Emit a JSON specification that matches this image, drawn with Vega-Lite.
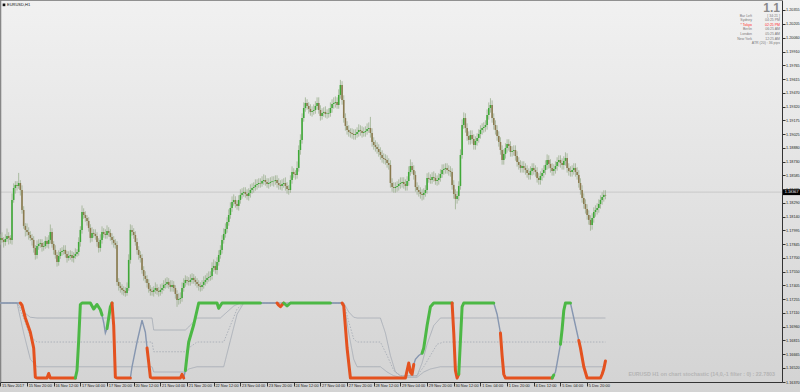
{
"$schema":"https://vega.github.io/schema/vega-lite/v6.json",
"width":782,"height":382,
"autosize":{"type":"none"},
"padding":{"left":0,"top":0,"right":18,"bottom":10},
"background":"#dcdcdc",
"config":{"view":{"stroke":null},"font":"Liberation Sans","axis":{"labelOverlap":false,"labelSeparation":0}},
"datasets":{
"c":[
{"i":0,"o":1.1789,"h":1.17953,"l":1.1784,"c":1.17913},{"i":1,"o":1.17913,"h":1.17973,"l":1.17862,"c":1.17892},{"i":2,"o":1.17892,"h":1.17922,"l":1.1781,"c":1.1787},{"i":3,"o":1.1787,"h":1.17952,"l":1.1783,"c":1.17902},{"i":4,"o":1.17902,"h":1.18014,"l":1.17872,"c":1.17934},{"i":5,"o":1.17934,"h":1.17974,"l":1.17843,"c":1.17913},{"i":6,"o":1.17913,"h":1.17943,"l":1.17852,"c":1.17892},{"i":7,"o":1.17892,"h":1.1839,"l":1.17842,"c":1.1832},{"i":8,"o":1.1832,"h":1.18498,"l":1.1829,"c":1.18448},{"i":9,"o":1.18448,"h":1.18521,"l":1.18388,"c":1.18481},
{"i":10,"o":1.18481,"h":1.18521,"l":1.1842,"c":1.1847},{"i":11,"o":1.1847,"h":1.1861,"l":1.1844,"c":1.18502},{"i":12,"o":1.18502,"h":1.18532,"l":1.18367,"c":1.18427},{"i":13,"o":1.18427,"h":1.18477,"l":1.18173,"c":1.18213},{"i":14,"o":1.18213,"h":1.18253,"l":1.18012,"c":1.18042},{"i":15,"o":1.18042,"h":1.18072,"l":1.17929,"c":1.17999},{"i":16,"o":1.17999,"h":1.18069,"l":1.17937,"c":1.17977},{"i":17,"o":1.17977,"h":1.18027,"l":1.17895,"c":1.17945},{"i":18,"o":1.17945,"h":1.17985,"l":1.17883,"c":1.17913},{"i":19,"o":1.17913,"h":1.17953,"l":1.17832,"c":1.17892},
{"i":20,"o":1.17892,"h":1.17932,"l":1.17756,"c":1.17806},{"i":21,"o":1.17806,"h":1.17836,"l":1.17681,"c":1.17731},{"i":22,"o":1.17731,"h":1.17887,"l":1.17691,"c":1.17827},{"i":23,"o":1.17827,"h":1.17899,"l":1.17787,"c":1.17849},{"i":24,"o":1.17849,"h":1.179,"l":1.17809,"c":1.1786},{"i":25,"o":1.1786,"h":1.179,"l":1.17767,"c":1.17817},{"i":26,"o":1.17817,"h":1.17867,"l":1.17777,"c":1.17827},{"i":27,"o":1.17827,"h":1.17931,"l":1.17797,"c":1.17881},{"i":28,"o":1.17881,"h":1.17921,"l":1.17809,"c":1.17849},{"i":29,"o":1.17849,"h":1.17942,"l":1.17799,"c":1.17892},
{"i":30,"o":1.17892,"h":1.18057,"l":1.17852,"c":1.17977},{"i":31,"o":1.17977,"h":1.18017,"l":1.17809,"c":1.17849},{"i":32,"o":1.17849,"h":1.17879,"l":1.17735,"c":1.17785},{"i":33,"o":1.17785,"h":1.17835,"l":1.17691,"c":1.17731},{"i":34,"o":1.17731,"h":1.17761,"l":1.17606,"c":1.17656},{"i":35,"o":1.17656,"h":1.1778,"l":1.17616,"c":1.1772},{"i":36,"o":1.1772,"h":1.17803,"l":1.1769,"c":1.17763},{"i":37,"o":1.17763,"h":1.17814,"l":1.17723,"c":1.17774},{"i":38,"o":1.17774,"h":1.17835,"l":1.17734,"c":1.17785},{"i":39,"o":1.17785,"h":1.17835,"l":1.17702,"c":1.17742},
{"i":40,"o":1.17742,"h":1.17772,"l":1.17649,"c":1.17699},{"i":41,"o":1.17699,"h":1.1777,"l":1.17669,"c":1.1772},{"i":42,"o":1.1772,"h":1.17781,"l":1.1768,"c":1.17731},{"i":43,"o":1.17731,"h":1.17771,"l":1.17659,"c":1.17699},{"i":44,"o":1.17699,"h":1.1776,"l":1.17649,"c":1.1772},{"i":45,"o":1.1772,"h":1.17802,"l":1.1769,"c":1.17742},{"i":46,"o":1.17742,"h":1.17793,"l":1.17712,"c":1.17763},{"i":47,"o":1.17763,"h":1.1792,"l":1.17723,"c":1.1787},{"i":48,"o":1.1787,"h":1.18039,"l":1.1782,"c":1.17999},{"i":49,"o":1.17999,"h":1.18261,"l":1.17959,"c":1.18191},
{"i":50,"o":1.18191,"h":1.18231,"l":1.18119,"c":1.18159},{"i":51,"o":1.18159,"h":1.18199,"l":1.18087,"c":1.18127},{"i":52,"o":1.18127,"h":1.18157,"l":1.18045,"c":1.18095},{"i":53,"o":1.18095,"h":1.18135,"l":1.1798,"c":1.1802},{"i":54,"o":1.1802,"h":1.1806,"l":1.17863,"c":1.17913},{"i":55,"o":1.17913,"h":1.18027,"l":1.17873,"c":1.17967},{"i":56,"o":1.17967,"h":1.18007,"l":1.17916,"c":1.17956},{"i":57,"o":1.17956,"h":1.18006,"l":1.17894,"c":1.17934},{"i":58,"o":1.17934,"h":1.17974,"l":1.1782,"c":1.1787},{"i":59,"o":1.1787,"h":1.1791,"l":1.17756,"c":1.17806},
{"i":60,"o":1.17806,"h":1.17952,"l":1.17766,"c":1.17892},{"i":61,"o":1.17892,"h":1.18037,"l":1.17852,"c":1.17977},{"i":62,"o":1.17977,"h":1.18017,"l":1.17916,"c":1.17956},{"i":63,"o":1.17956,"h":1.18006,"l":1.17905,"c":1.17945},{"i":64,"o":1.17945,"h":1.18048,"l":1.17905,"c":1.17988},{"i":65,"o":1.17988,"h":1.18028,"l":1.17927,"c":1.17967},{"i":66,"o":1.17967,"h":1.18007,"l":1.17884,"c":1.17924},{"i":67,"o":1.17924,"h":1.17964,"l":1.17842,"c":1.17892},{"i":68,"o":1.17892,"h":1.17932,"l":1.1781,"c":1.1786},{"i":69,"o":1.1786,"h":1.179,"l":1.17798,"c":1.17838},
{"i":70,"o":1.17838,"h":1.17878,"l":1.17402,"c":1.17442},{"i":71,"o":1.17442,"h":1.17482,"l":1.17349,"c":1.17399},{"i":72,"o":1.17399,"h":1.17439,"l":1.17327,"c":1.17377},{"i":73,"o":1.17377,"h":1.17417,"l":1.17306,"c":1.17356},{"i":74,"o":1.17356,"h":1.17396,"l":1.17295,"c":1.17345},{"i":75,"o":1.17345,"h":1.17385,"l":1.17284,"c":1.17324},{"i":76,"o":1.17324,"h":1.17437,"l":1.17294,"c":1.17377},{"i":77,"o":1.17377,"h":1.17738,"l":1.17347,"c":1.17678},{"i":78,"o":1.17678,"h":1.18059,"l":1.17638,"c":1.17999},{"i":79,"o":1.17999,"h":1.18049,"l":1.17937,"c":1.17977},
{"i":80,"o":1.17977,"h":1.18017,"l":1.17905,"c":1.17945},{"i":81,"o":1.17945,"h":1.17985,"l":1.1783,"c":1.1787},{"i":82,"o":1.1787,"h":1.1791,"l":1.17735,"c":1.17785},{"i":83,"o":1.17785,"h":1.17825,"l":1.17681,"c":1.17731},{"i":84,"o":1.17731,"h":1.17771,"l":1.17649,"c":1.17699},{"i":85,"o":1.17699,"h":1.17739,"l":1.1753,"c":1.1757},{"i":86,"o":1.1757,"h":1.1761,"l":1.17456,"c":1.17506},{"i":87,"o":1.17506,"h":1.17556,"l":1.17434,"c":1.17474},{"i":88,"o":1.17474,"h":1.17514,"l":1.17381,"c":1.17431},{"i":89,"o":1.17431,"h":1.17471,"l":1.17327,"c":1.17367},
{"i":90,"o":1.17367,"h":1.17407,"l":1.17295,"c":1.17345},{"i":91,"o":1.17345,"h":1.17385,"l":1.17295,"c":1.17335},{"i":92,"o":1.17335,"h":1.17396,"l":1.17285,"c":1.17356},{"i":93,"o":1.17356,"h":1.17437,"l":1.17316,"c":1.17377},{"i":94,"o":1.17377,"h":1.17417,"l":1.17305,"c":1.17345},{"i":95,"o":1.17345,"h":1.17385,"l":1.17285,"c":1.17335},{"i":96,"o":1.17335,"h":1.17416,"l":1.17295,"c":1.17356},{"i":97,"o":1.17356,"h":1.17427,"l":1.17316,"c":1.17377},{"i":98,"o":1.17377,"h":1.1746,"l":1.17347,"c":1.1741},{"i":99,"o":1.1741,"h":1.1748,"l":1.1737,"c":1.1742},
{"i":100,"o":1.1742,"h":1.17492,"l":1.1738,"c":1.17442},{"i":101,"o":1.17442,"h":1.17482,"l":1.1737,"c":1.1741},{"i":102,"o":1.1741,"h":1.1746,"l":1.17338,"c":1.17388},{"i":103,"o":1.17388,"h":1.1746,"l":1.17338,"c":1.1741},{"i":104,"o":1.1741,"h":1.1745,"l":1.17337,"c":1.17377},{"i":105,"o":1.17377,"h":1.17407,"l":1.17263,"c":1.17313},{"i":106,"o":1.17313,"h":1.17353,"l":1.17175,"c":1.17249},{"i":107,"o":1.17249,"h":1.17319,"l":1.17199,"c":1.17259},{"i":108,"o":1.17259,"h":1.1733,"l":1.17209,"c":1.1727},{"i":109,"o":1.1727,"h":1.17437,"l":1.1723,"c":1.17377},
{"i":110,"o":1.17377,"h":1.17481,"l":1.17337,"c":1.17431},{"i":111,"o":1.17431,"h":1.17513,"l":1.17391,"c":1.17463},{"i":112,"o":1.17463,"h":1.17503,"l":1.17413,"c":1.17453},{"i":113,"o":1.17453,"h":1.17493,"l":1.17402,"c":1.17442},{"i":114,"o":1.17442,"h":1.17523,"l":1.17402,"c":1.17463},{"i":115,"o":1.17463,"h":1.17535,"l":1.17423,"c":1.17485},{"i":116,"o":1.17485,"h":1.17525,"l":1.17423,"c":1.17463},{"i":117,"o":1.17463,"h":1.17503,"l":1.17402,"c":1.17442},{"i":118,"o":1.17442,"h":1.17482,"l":1.1738,"c":1.1742},{"i":119,"o":1.1742,"h":1.1746,"l":1.17349,"c":1.17399},
{"i":120,"o":1.17399,"h":1.17439,"l":1.17338,"c":1.17388},{"i":121,"o":1.17388,"h":1.1746,"l":1.17348,"c":1.1741},{"i":122,"o":1.1741,"h":1.17502,"l":1.1737,"c":1.17442},{"i":123,"o":1.17442,"h":1.17513,"l":1.17402,"c":1.17463},{"i":124,"o":1.17463,"h":1.17535,"l":1.17423,"c":1.17485},{"i":125,"o":1.17485,"h":1.17555,"l":1.17445,"c":1.17495},{"i":126,"o":1.17495,"h":1.17556,"l":1.17455,"c":1.17506},{"i":127,"o":1.17506,"h":1.17652,"l":1.17466,"c":1.17592},{"i":128,"o":1.17592,"h":1.17683,"l":1.17552,"c":1.17613},{"i":129,"o":1.17613,"h":1.17663,"l":1.1753,"c":1.1757},
{"i":130,"o":1.1757,"h":1.17706,"l":1.1752,"c":1.17656},{"i":131,"o":1.17656,"h":1.17781,"l":1.17616,"c":1.17731},{"i":132,"o":1.17731,"h":1.17835,"l":1.17691,"c":1.17785},{"i":133,"o":1.17785,"h":1.17942,"l":1.17745,"c":1.17892},{"i":134,"o":1.17892,"h":1.18016,"l":1.17852,"c":1.17956},{"i":135,"o":1.17956,"h":1.18069,"l":1.17916,"c":1.18009},{"i":136,"o":1.18009,"h":1.18134,"l":1.17969,"c":1.18084},{"i":137,"o":1.18084,"h":1.18219,"l":1.18044,"c":1.18159},{"i":138,"o":1.18159,"h":1.18294,"l":1.18119,"c":1.18234},{"i":139,"o":1.18234,"h":1.18358,"l":1.18194,"c":1.18298},
{"i":140,"o":1.18298,"h":1.1838,"l":1.18258,"c":1.1832},{"i":141,"o":1.1832,"h":1.1836,"l":1.18237,"c":1.18277},{"i":142,"o":1.18277,"h":1.18317,"l":1.18216,"c":1.18256},{"i":143,"o":1.18256,"h":1.1837,"l":1.18206,"c":1.1832},{"i":144,"o":1.1832,"h":1.18434,"l":1.1828,"c":1.18374},{"i":145,"o":1.18374,"h":1.18445,"l":1.18334,"c":1.18395},{"i":146,"o":1.18395,"h":1.18456,"l":1.18355,"c":1.18406},{"i":147,"o":1.18406,"h":1.18456,"l":1.18344,"c":1.18384},{"i":148,"o":1.18384,"h":1.18434,"l":1.18323,"c":1.18363},{"i":149,"o":1.18363,"h":1.18445,"l":1.18313,"c":1.18395},
{"i":150,"o":1.18395,"h":1.18487,"l":1.18345,"c":1.18427},{"i":151,"o":1.18427,"h":1.18498,"l":1.18387,"c":1.18448},{"i":152,"o":1.18448,"h":1.18509,"l":1.18398,"c":1.18459},{"i":153,"o":1.18459,"h":1.18541,"l":1.18419,"c":1.18481},{"i":154,"o":1.18481,"h":1.18541,"l":1.18431,"c":1.18491},{"i":155,"o":1.18491,"h":1.18552,"l":1.18451,"c":1.18502},{"i":156,"o":1.18502,"h":1.18552,"l":1.18452,"c":1.18496},{"i":157,"o":1.18496,"h":1.18573,"l":1.18462,"c":1.18523},{"i":158,"o":1.18523,"h":1.18594,"l":1.18483,"c":1.18534},{"i":159,"o":1.18534,"h":1.18584,"l":1.18473,"c":1.18513},
{"i":160,"o":1.18513,"h":1.18553,"l":1.18451,"c":1.18491},{"i":161,"o":1.18491,"h":1.18552,"l":1.18441,"c":1.18502},{"i":162,"o":1.18502,"h":1.18563,"l":1.18462,"c":1.18513},{"i":163,"o":1.18513,"h":1.18573,"l":1.18473,"c":1.1852},{"i":164,"o":1.1852,"h":1.18573,"l":1.18463,"c":1.18523},{"i":165,"o":1.18523,"h":1.18584,"l":1.18483,"c":1.18534},{"i":166,"o":1.18534,"h":1.18584,"l":1.18452,"c":1.18502},{"i":167,"o":1.18502,"h":1.18552,"l":1.18431,"c":1.18481},{"i":168,"o":1.18481,"h":1.18531,"l":1.1843,"c":1.1847},{"i":169,"o":1.1847,"h":1.18541,"l":1.1842,"c":1.18491},
{"i":170,"o":1.18491,"h":1.18552,"l":1.18451,"c":1.18502},{"i":171,"o":1.18502,"h":1.18562,"l":1.1842,"c":1.1847},{"i":172,"o":1.1847,"h":1.1851,"l":1.18388,"c":1.18438},{"i":173,"o":1.18438,"h":1.18478,"l":1.18377,"c":1.18427},{"i":174,"o":1.18427,"h":1.18584,"l":1.18397,"c":1.18534},{"i":175,"o":1.18534,"h":1.1868,"l":1.18494,"c":1.1862},{"i":176,"o":1.1862,"h":1.1866,"l":1.18558,"c":1.18598},{"i":177,"o":1.18598,"h":1.18638,"l":1.18538,"c":1.18588},{"i":178,"o":1.18588,"h":1.18733,"l":1.18548,"c":1.18663},{"i":179,"o":1.18663,"h":1.18905,"l":1.18623,"c":1.18855},
{"i":180,"o":1.18855,"h":1.19023,"l":1.18805,"c":1.18963},{"i":181,"o":1.18963,"h":1.19248,"l":1.18923,"c":1.19198},{"i":182,"o":1.19198,"h":1.19365,"l":1.19158,"c":1.19305},{"i":183,"o":1.19305,"h":1.19419,"l":1.19265,"c":1.19359},{"i":184,"o":1.19359,"h":1.19399,"l":1.19287,"c":1.19327},{"i":185,"o":1.19327,"h":1.19367,"l":1.19245,"c":1.19295},{"i":186,"o":1.19295,"h":1.19345,"l":1.19223,"c":1.19263},{"i":187,"o":1.19263,"h":1.19323,"l":1.19213,"c":1.19273},{"i":188,"o":1.19273,"h":1.19344,"l":1.19233,"c":1.19284},{"i":189,"o":1.19284,"h":1.19377,"l":1.19244,"c":1.19327},
{"i":190,"o":1.19327,"h":1.19419,"l":1.19287,"c":1.19359},{"i":191,"o":1.19359,"h":1.19419,"l":1.19244,"c":1.19284},{"i":192,"o":1.19284,"h":1.19334,"l":1.1917,"c":1.1922},{"i":193,"o":1.1922,"h":1.19302,"l":1.1918,"c":1.19252},{"i":194,"o":1.19252,"h":1.19313,"l":1.19212,"c":1.19263},{"i":195,"o":1.19263,"h":1.19323,"l":1.19201,"c":1.19241},{"i":196,"o":1.19241,"h":1.19291,"l":1.19191,"c":1.19245},{"i":197,"o":1.19245,"h":1.19302,"l":1.19201,"c":1.19252},{"i":198,"o":1.19252,"h":1.19365,"l":1.19212,"c":1.19305},{"i":199,"o":1.19305,"h":1.19398,"l":1.19255,"c":1.19348},
{"i":200,"o":1.19348,"h":1.19419,"l":1.19298,"c":1.19359},{"i":201,"o":1.19359,"h":1.19429,"l":1.19309,"c":1.19369},{"i":202,"o":1.19369,"h":1.19419,"l":1.19297,"c":1.19337},{"i":203,"o":1.19337,"h":1.19505,"l":1.19297,"c":1.19445},{"i":204,"o":1.19445,"h":1.19606,"l":1.19405,"c":1.19552},{"i":205,"o":1.19552,"h":1.19592,"l":1.19341,"c":1.19391},{"i":206,"o":1.19391,"h":1.19441,"l":1.19148,"c":1.19198},{"i":207,"o":1.19198,"h":1.19248,"l":1.19063,"c":1.19113},{"i":208,"o":1.19113,"h":1.19163,"l":1.1902,"c":1.1907},{"i":209,"o":1.1907,"h":1.1912,"l":1.18998,"c":1.19048},
{"i":210,"o":1.19048,"h":1.19088,"l":1.18988,"c":1.19038},{"i":211,"o":1.19038,"h":1.19088,"l":1.18977,"c":1.19027},{"i":212,"o":1.19027,"h":1.19077,"l":1.18966,"c":1.19016},{"i":213,"o":1.19016,"h":1.19077,"l":1.18966,"c":1.19027},{"i":214,"o":1.19027,"h":1.19098,"l":1.18987,"c":1.19048},{"i":215,"o":1.19048,"h":1.1913,"l":1.18998,"c":1.1907},{"i":216,"o":1.1907,"h":1.1912,"l":1.19009,"c":1.19059},{"i":217,"o":1.19059,"h":1.19109,"l":1.18988,"c":1.19038},{"i":218,"o":1.19038,"h":1.19098,"l":1.18998,"c":1.19048},{"i":219,"o":1.19048,"h":1.19109,"l":1.18998,"c":1.19059},
{"i":220,"o":1.19059,"h":1.1914,"l":1.19019,"c":1.1908},{"i":221,"o":1.1908,"h":1.19151,"l":1.1904,"c":1.19091},{"i":222,"o":1.19091,"h":1.1921,"l":1.18988,"c":1.19038},{"i":223,"o":1.19038,"h":1.19088,"l":1.18891,"c":1.18941},{"i":224,"o":1.18941,"h":1.18991,"l":1.18859,"c":1.18909},{"i":225,"o":1.18909,"h":1.18959,"l":1.18838,"c":1.18888},{"i":226,"o":1.18888,"h":1.18938,"l":1.18816,"c":1.18866},{"i":227,"o":1.18866,"h":1.18916,"l":1.18784,"c":1.18834},{"i":228,"o":1.18834,"h":1.18884,"l":1.18752,"c":1.18802},{"i":229,"o":1.18802,"h":1.18852,"l":1.1872,"c":1.1877},
{"i":230,"o":1.1877,"h":1.1882,"l":1.18709,"c":1.18759},{"i":231,"o":1.18759,"h":1.18809,"l":1.18698,"c":1.18748},{"i":232,"o":1.18748,"h":1.18798,"l":1.18666,"c":1.18716},{"i":233,"o":1.18716,"h":1.18766,"l":1.18645,"c":1.18695},{"i":234,"o":1.18695,"h":1.18745,"l":1.18452,"c":1.18502},{"i":235,"o":1.18502,"h":1.18552,"l":1.18409,"c":1.18459},{"i":236,"o":1.18459,"h":1.18509,"l":1.18398,"c":1.18448},{"i":237,"o":1.18448,"h":1.18509,"l":1.18398,"c":1.18459},{"i":238,"o":1.18459,"h":1.1852,"l":1.18409,"c":1.1847},{"i":239,"o":1.1847,"h":1.18541,"l":1.1842,"c":1.18491},
{"i":240,"o":1.18491,"h":1.18562,"l":1.18441,"c":1.18502},{"i":241,"o":1.18502,"h":1.18563,"l":1.18452,"c":1.18513},{"i":242,"o":1.18513,"h":1.18563,"l":1.18441,"c":1.18491},{"i":243,"o":1.18491,"h":1.18541,"l":1.1842,"c":1.1847},{"i":244,"o":1.1847,"h":1.18573,"l":1.1842,"c":1.18523},{"i":245,"o":1.18523,"h":1.1868,"l":1.18473,"c":1.1862},{"i":246,"o":1.1862,"h":1.18754,"l":1.1858,"c":1.18684},{"i":247,"o":1.18684,"h":1.18724,"l":1.18601,"c":1.18641},{"i":248,"o":1.18641,"h":1.18691,"l":1.18538,"c":1.18588},{"i":249,"o":1.18588,"h":1.18628,"l":1.18409,"c":1.18459},
{"i":250,"o":1.18459,"h":1.18509,"l":1.18377,"c":1.18427},{"i":251,"o":1.18427,"h":1.18477,"l":1.18356,"c":1.18406},{"i":252,"o":1.18406,"h":1.18456,"l":1.18334,"c":1.18384},{"i":253,"o":1.18384,"h":1.18434,"l":1.18314,"c":1.18374},{"i":254,"o":1.18374,"h":1.18445,"l":1.18324,"c":1.18395},{"i":255,"o":1.18395,"h":1.18477,"l":1.18355,"c":1.18427},{"i":256,"o":1.18427,"h":1.18606,"l":1.18387,"c":1.18556},{"i":257,"o":1.18556,"h":1.18616,"l":1.18505,"c":1.18545},{"i":258,"o":1.18545,"h":1.18595,"l":1.18494,"c":1.18534},{"i":259,"o":1.18534,"h":1.18616,"l":1.18494,"c":1.18566},
{"i":260,"o":1.18566,"h":1.18626,"l":1.18516,"c":1.18556},{"i":261,"o":1.18556,"h":1.18606,"l":1.18483,"c":1.18523},{"i":262,"o":1.18523,"h":1.18584,"l":1.18473,"c":1.18534},{"i":263,"o":1.18534,"h":1.18606,"l":1.18484,"c":1.18556},{"i":264,"o":1.18556,"h":1.18648,"l":1.18516,"c":1.18598},{"i":265,"o":1.18598,"h":1.18701,"l":1.18558,"c":1.18641},{"i":266,"o":1.18641,"h":1.18702,"l":1.18591,"c":1.18652},{"i":267,"o":1.18652,"h":1.18713,"l":1.18602,"c":1.18663},{"i":268,"o":1.18663,"h":1.18713,"l":1.18601,"c":1.18641},{"i":269,"o":1.18641,"h":1.18691,"l":1.18581,"c":1.18631},
{"i":270,"o":1.18631,"h":1.18681,"l":1.1857,"c":1.1862},{"i":271,"o":1.1862,"h":1.1866,"l":1.18431,"c":1.18481},{"i":272,"o":1.18481,"h":1.18531,"l":1.18334,"c":1.18384},{"i":273,"o":1.18384,"h":1.18434,"l":1.1822,"c":1.18331},{"i":274,"o":1.18331,"h":1.18413,"l":1.18281,"c":1.18363},{"i":275,"o":1.18363,"h":1.1852,"l":1.18313,"c":1.1847},{"i":276,"o":1.1847,"h":1.18862,"l":1.1843,"c":1.18802},{"i":277,"o":1.18802,"h":1.19183,"l":1.18762,"c":1.19123},{"i":278,"o":1.19123,"h":1.19258,"l":1.19083,"c":1.19198},{"i":279,"o":1.19198,"h":1.19248,"l":1.19041,"c":1.19091},
{"i":280,"o":1.19091,"h":1.19141,"l":1.18955,"c":1.19005},{"i":281,"o":1.19005,"h":1.19055,"l":1.18913,"c":1.18963},{"i":282,"o":1.18963,"h":1.19066,"l":1.18913,"c":1.19016},{"i":283,"o":1.19016,"h":1.19066,"l":1.18923,"c":1.18973},{"i":284,"o":1.18973,"h":1.19023,"l":1.18859,"c":1.18909},{"i":285,"o":1.18909,"h":1.19002,"l":1.18859,"c":1.18952},{"i":286,"o":1.18952,"h":1.19034,"l":1.18902,"c":1.18984},{"i":287,"o":1.18984,"h":1.19077,"l":1.18934,"c":1.19027},{"i":288,"o":1.19027,"h":1.1912,"l":1.18977,"c":1.1907},{"i":289,"o":1.1907,"h":1.19141,"l":1.1902,"c":1.19091},
{"i":290,"o":1.19091,"h":1.19152,"l":1.19041,"c":1.19102},{"i":291,"o":1.19102,"h":1.19173,"l":1.19052,"c":1.19123},{"i":292,"o":1.19123,"h":1.1929,"l":1.19073,"c":1.1923},{"i":293,"o":1.1923,"h":1.19365,"l":1.1918,"c":1.19305},{"i":294,"o":1.19305,"h":1.1941,"l":1.19255,"c":1.19337},{"i":295,"o":1.19337,"h":1.19387,"l":1.19148,"c":1.19198},{"i":296,"o":1.19198,"h":1.19248,"l":1.19073,"c":1.19123},{"i":297,"o":1.19123,"h":1.19173,"l":1.1902,"c":1.1907},{"i":298,"o":1.1907,"h":1.1912,"l":1.18955,"c":1.19005},{"i":299,"o":1.19005,"h":1.19055,"l":1.18891,"c":1.18941},
{"i":300,"o":1.18941,"h":1.18991,"l":1.18805,"c":1.18855},{"i":301,"o":1.18855,"h":1.18905,"l":1.18698,"c":1.18748},{"i":302,"o":1.18748,"h":1.18863,"l":1.18698,"c":1.18813},{"i":303,"o":1.18813,"h":1.18927,"l":1.18763,"c":1.18877},{"i":304,"o":1.18877,"h":1.1897,"l":1.18827,"c":1.1892},{"i":305,"o":1.1892,"h":1.1897,"l":1.18848,"c":1.18898},{"i":306,"o":1.18898,"h":1.18948,"l":1.18784,"c":1.18834},{"i":307,"o":1.18834,"h":1.18895,"l":1.18784,"c":1.18845},{"i":308,"o":1.18845,"h":1.18905,"l":1.18795,"c":1.18855},{"i":309,"o":1.18855,"h":1.18905,"l":1.18741,"c":1.18791},
{"i":310,"o":1.18791,"h":1.18841,"l":1.18677,"c":1.18727},{"i":311,"o":1.18727,"h":1.18777,"l":1.18645,"c":1.18695},{"i":312,"o":1.18695,"h":1.18745,"l":1.18613,"c":1.18663},{"i":313,"o":1.18663,"h":1.18734,"l":1.18613,"c":1.18684},{"i":314,"o":1.18684,"h":1.18734,"l":1.18613,"c":1.18663},{"i":315,"o":1.18663,"h":1.18713,"l":1.18591,"c":1.18641},{"i":316,"o":1.18641,"h":1.18691,"l":1.18559,"c":1.18609},{"i":317,"o":1.18609,"h":1.18659,"l":1.18538,"c":1.18588},{"i":318,"o":1.18588,"h":1.18681,"l":1.18538,"c":1.18631},{"i":319,"o":1.18631,"h":1.18713,"l":1.18581,"c":1.18663},
{"i":320,"o":1.18663,"h":1.18713,"l":1.18591,"c":1.18641},{"i":321,"o":1.18641,"h":1.18691,"l":1.1857,"c":1.1862},{"i":322,"o":1.1862,"h":1.1867,"l":1.18506,"c":1.18556},{"i":323,"o":1.18556,"h":1.18606,"l":1.18484,"c":1.18534},{"i":324,"o":1.18534,"h":1.18627,"l":1.18484,"c":1.18577},{"i":325,"o":1.18577,"h":1.18659,"l":1.18527,"c":1.18609},{"i":326,"o":1.18609,"h":1.18691,"l":1.18559,"c":1.18641},{"i":327,"o":1.18641,"h":1.18745,"l":1.18591,"c":1.18695},{"i":328,"o":1.18695,"h":1.18808,"l":1.18645,"c":1.18748},{"i":329,"o":1.18748,"h":1.18798,"l":1.18656,"c":1.18706},
{"i":330,"o":1.18706,"h":1.18756,"l":1.18613,"c":1.18663},{"i":331,"o":1.18663,"h":1.18713,"l":1.18581,"c":1.18631},{"i":332,"o":1.18631,"h":1.18702,"l":1.18581,"c":1.18652},{"i":333,"o":1.18652,"h":1.18734,"l":1.18602,"c":1.18684},{"i":334,"o":1.18684,"h":1.18777,"l":1.18634,"c":1.18727},{"i":335,"o":1.18727,"h":1.18798,"l":1.18677,"c":1.18748},{"i":336,"o":1.18748,"h":1.18798,"l":1.18666,"c":1.18716},{"i":337,"o":1.18716,"h":1.18766,"l":1.18645,"c":1.18695},{"i":338,"o":1.18695,"h":1.18788,"l":1.18645,"c":1.18738},{"i":339,"o":1.18738,"h":1.1883,"l":1.18688,"c":1.1877},
{"i":340,"o":1.1877,"h":1.1882,"l":1.18613,"c":1.18663},{"i":341,"o":1.18663,"h":1.18713,"l":1.18581,"c":1.18631},{"i":342,"o":1.18631,"h":1.18681,"l":1.1857,"c":1.1862},{"i":343,"o":1.1862,"h":1.18691,"l":1.1857,"c":1.18641},{"i":344,"o":1.18641,"h":1.18713,"l":1.18591,"c":1.18663},{"i":345,"o":1.18663,"h":1.18713,"l":1.1857,"c":1.1862},{"i":346,"o":1.1862,"h":1.1867,"l":1.18538,"c":1.18588},{"i":347,"o":1.18588,"h":1.18638,"l":1.18452,"c":1.18502},{"i":348,"o":1.18502,"h":1.18552,"l":1.18377,"c":1.18427},{"i":349,"o":1.18427,"h":1.18477,"l":1.18291,"c":1.18341},
{"i":350,"o":1.18341,"h":1.18391,"l":1.18227,"c":1.18277},{"i":351,"o":1.18277,"h":1.18327,"l":1.18174,"c":1.18224},{"i":352,"o":1.18224,"h":1.18274,"l":1.18109,"c":1.18159},{"i":353,"o":1.18159,"h":1.18209,"l":1.18056,"c":1.18106},{"i":354,"o":1.18106,"h":1.18156,"l":1.1799,"c":1.18052},{"i":355,"o":1.18052,"h":1.18177,"l":1.18002,"c":1.18127},{"i":356,"o":1.18127,"h":1.18241,"l":1.18077,"c":1.18191},{"i":357,"o":1.18191,"h":1.18263,"l":1.18141,"c":1.18213},{"i":358,"o":1.18213,"h":1.18284,"l":1.18163,"c":1.18234},{"i":359,"o":1.18234,"h":1.18327,"l":1.18184,"c":1.18277},
{"i":360,"o":1.18277,"h":1.1837,"l":1.18227,"c":1.1832},{"i":361,"o":1.1832,"h":1.18402,"l":1.1827,"c":1.18352},{"i":362,"o":1.18352,"h":1.18424,"l":1.18302,"c":1.18374},{"i":363,"o":1.18374,"h":1.18424,"l":1.18327,"c":1.18367}
],
"s":[{"i":0,"v":100},{"i":12,"v":100},{"i":13,"v":97},{"i":15,"v":80},{"i":18,"v":61},{"i":20,"v":40},{"i":21,"v":1},{"i":22,"v":0},{"i":28,"v":0},{"i":29,"v":6},{"i":30,"v":0},{"i":45,"v":0},{"i":46,"v":10},{"i":47,"v":50},{"i":48,"v":98},{"i":49,"v":100},{"i":54,"v":100},{"i":56,"v":92},{"i":58,"v":98},{"i":60,"v":91},{"i":61,"v":84},{"i":62,"v":74},{"i":63,"v":60},{"i":64,"v":66},{"i":65,"v":80},{"i":66,"v":95},{"i":67,"v":100},{"i":68,"v":70},{"i":69,"v":1},{"i":70,"v":0},{"i":78,"v":0},{"i":79,"v":15},{"i":82,"v":48},{"i":85,"v":77},{"i":87,"v":61},{"i":88,"v":40},{"i":89,"v":21},{"i":90,"v":1},{"i":91,"v":0},{"i":108,"v":0},{"i":109,"v":5},{"i":110,"v":0},{"i":111,"v":10},{"i":112,"v":30},{"i":113,"v":48},{"i":116,"v":71},{"i":119,"v":100},{"i":130,"v":100},{"i":131,"v":93},{"i":133,"v":100},{"i":166,"v":100},{"i":167,"v":97},{"i":168,"v":95},{"i":170,"v":100},{"i":172,"v":96},{"i":174,"v":100},{"i":205,"v":100},{"i":206,"v":96},{"i":208,"v":40},{"i":210,"v":0},{"i":243,"v":0},{"i":244,"v":10},{"i":245,"v":20},{"i":246,"v":8},{"i":247,"v":5},{"i":248,"v":18},{"i":249,"v":25},{"i":251,"v":30},{"i":253,"v":33},{"i":254,"v":40},{"i":256,"v":70},{"i":258,"v":95},{"i":260,"v":100},{"i":271,"v":100},{"i":272,"v":60},{"i":273,"v":10},{"i":274,"v":0},{"i":275,"v":5},{"i":276,"v":50},{"i":277,"v":95},{"i":278,"v":100},{"i":296,"v":100},{"i":298,"v":85},{"i":300,"v":60},{"i":301,"v":30},{"i":302,"v":5},{"i":303,"v":0},{"i":331,"v":0},{"i":332,"v":4},{"i":333,"v":8},{"i":334,"v":20},{"i":336,"v":45},{"i":337,"v":65},{"i":338,"v":90},{"i":339,"v":100},{"i":342,"v":100},{"i":343,"v":90},{"i":345,"v":70},{"i":347,"v":50},{"i":348,"v":40},{"i":350,"v":15},{"i":352,"v":0},{"i":360,"v":0},{"i":361,"v":5},{"i":362,"v":12},{"i":363,"v":22.78}],
"h":[
{"g":1,"k":"dn","i":12,"v":100},{"g":1,"k":"dn","i":13,"v":97},{"g":1,"k":"dn","i":15,"v":80},{"g":1,"k":"dn","i":18,"v":61},{"g":1,"k":"dn","i":20,"v":40},{"g":1,"k":"dn","i":21,"v":1},{"g":1,"k":"dn","i":22,"v":0},{"g":1,"k":"dn","i":28,"v":0},{"g":1,"k":"dn","i":29,"v":6},{"g":1,"k":"dn","i":30,"v":0},{"g":1,"k":"dn","i":45,"v":0},
{"g":2,"k":"up","i":45,"v":0},{"g":2,"k":"up","i":46,"v":10},{"g":2,"k":"up","i":47,"v":50},{"g":2,"k":"up","i":48,"v":98},{"g":2,"k":"up","i":49,"v":100},{"g":2,"k":"up","i":54,"v":100},{"g":2,"k":"up","i":56,"v":92},{"g":2,"k":"up","i":58,"v":98},{"g":2,"k":"up","i":60,"v":91},{"g":2,"k":"up","i":61,"v":84},
{"g":3,"k":"up","i":64,"v":66},{"g":3,"k":"up","i":65,"v":80},{"g":3,"k":"up","i":66,"v":95},{"g":3,"k":"up","i":67,"v":100},
{"g":4,"k":"dn","i":67,"v":100},{"g":4,"k":"dn","i":68,"v":70},{"g":4,"k":"dn","i":69,"v":1},{"g":4,"k":"dn","i":70,"v":0},{"g":4,"k":"dn","i":78,"v":0},
{"g":5,"k":"dn","i":88,"v":40},{"g":5,"k":"dn","i":89,"v":21},{"g":5,"k":"dn","i":90,"v":1},{"g":5,"k":"dn","i":91,"v":0},{"g":5,"k":"dn","i":108,"v":0},{"g":5,"k":"dn","i":109,"v":5},{"g":5,"k":"dn","i":110,"v":0},
{"g":6,"k":"up","i":111,"v":10},{"g":6,"k":"up","i":112,"v":30},{"g":6,"k":"up","i":113,"v":48},{"g":6,"k":"up","i":116,"v":71},{"g":6,"k":"up","i":119,"v":100},{"g":6,"k":"up","i":130,"v":100},{"g":6,"k":"up","i":131,"v":93},{"g":6,"k":"up","i":133,"v":100},{"g":6,"k":"up","i":156,"v":100},
{"g":7,"k":"dn","i":166,"v":100},{"g":7,"k":"dn","i":167,"v":97},{"g":7,"k":"dn","i":168,"v":95},{"g":7,"k":"dn","i":170,"v":100},
{"g":8,"k":"up","i":170,"v":100},{"g":8,"k":"up","i":172,"v":96},{"g":8,"k":"up","i":174,"v":100},{"g":8,"k":"up","i":198,"v":100},
{"g":9,"k":"dn","i":205,"v":100},{"g":9,"k":"dn","i":206,"v":96},{"g":9,"k":"dn","i":208,"v":40},{"g":9,"k":"dn","i":210,"v":0},{"g":9,"k":"dn","i":243,"v":0},{"g":9,"k":"dn","i":244,"v":10},{"g":9,"k":"dn","i":245,"v":20},{"g":9,"k":"dn","i":246,"v":8},{"g":9,"k":"dn","i":247,"v":5},{"g":9,"k":"dn","i":248,"v":18},
{"g":10,"k":"up","i":253,"v":33},{"g":10,"k":"up","i":254,"v":40},{"g":10,"k":"up","i":256,"v":70},{"g":10,"k":"up","i":258,"v":95},{"g":10,"k":"up","i":260,"v":100},{"g":10,"k":"up","i":271,"v":100},
{"g":11,"k":"dn","i":271,"v":100},{"g":11,"k":"dn","i":272,"v":60},{"g":11,"k":"dn","i":273,"v":10},{"g":11,"k":"dn","i":274,"v":0},{"g":11,"k":"dn","i":275,"v":5},
{"g":12,"k":"up","i":275,"v":5},{"g":12,"k":"up","i":276,"v":50},{"g":12,"k":"up","i":277,"v":95},{"g":12,"k":"up","i":278,"v":100},{"g":12,"k":"up","i":296,"v":100},
{"g":13,"k":"dn","i":300,"v":60},{"g":13,"k":"dn","i":301,"v":30},{"g":13,"k":"dn","i":302,"v":5},{"g":13,"k":"dn","i":303,"v":0},{"g":13,"k":"dn","i":331,"v":0},
{"g":14,"k":"up","i":331,"v":0},{"g":14,"k":"up","i":332,"v":4},
{"g":15,"k":"up","i":336,"v":45},{"g":15,"k":"up","i":337,"v":65},{"g":15,"k":"up","i":338,"v":90},{"g":15,"k":"up","i":339,"v":100},{"g":15,"k":"up","i":342,"v":100},
{"g":16,"k":"dn","i":347,"v":50},{"g":16,"k":"dn","i":348,"v":40},{"g":16,"k":"dn","i":350,"v":15},{"g":16,"k":"dn","i":352,"v":0},{"g":16,"k":"dn","i":360,"v":0},{"g":16,"k":"dn","i":361,"v":5},{"g":16,"k":"dn","i":362,"v":12},{"g":16,"k":"dn","i":363,"v":22.78}
],
"lv":[
{"k":"u","i":0,"v":100},{"k":"u","i":10,"v":100},{"k":"u","i":14,"v":88},{"k":"u","i":18,"v":81},{"k":"u","i":22,"v":80},{"k":"u","i":91,"v":80},{"k":"u","i":92,"v":64},{"k":"u","i":111,"v":64},{"k":"u","i":113,"v":68},{"k":"u","i":118,"v":80},{"k":"u","i":132,"v":80},{"k":"u","i":136,"v":88},{"k":"u","i":140,"v":96},{"k":"u","i":144,"v":100},{"k":"u","i":206,"v":100},{"k":"u","i":209,"v":88},{"k":"u","i":212,"v":81},{"k":"u","i":214,"v":80},{"k":"u","i":228,"v":80},{"k":"u","i":231,"v":60},{"k":"u","i":234,"v":30},{"k":"u","i":237,"v":8},{"k":"u","i":240,"v":3},{"k":"u","i":250,"v":3},{"k":"u","i":253,"v":20},{"k":"u","i":256,"v":45},{"k":"u","i":260,"v":70},{"k":"u","i":264,"v":80},{"k":"u","i":363,"v":80},
{"k":"m","i":0,"v":100},{"k":"m","i":10,"v":100},{"k":"m","i":14,"v":80},{"k":"m","i":18,"v":55},{"k":"m","i":22,"v":48},{"k":"m","i":91,"v":48},{"k":"m","i":92,"v":35},{"k":"m","i":111,"v":35},{"k":"m","i":113,"v":40},{"k":"m","i":118,"v":48},{"k":"m","i":134,"v":48},{"k":"m","i":138,"v":70},{"k":"m","i":142,"v":92},{"k":"m","i":146,"v":100},{"k":"m","i":206,"v":100},{"k":"m","i":209,"v":75},{"k":"m","i":212,"v":52},{"k":"m","i":214,"v":48},{"k":"m","i":228,"v":48},{"k":"m","i":232,"v":30},{"k":"m","i":236,"v":10},{"k":"m","i":240,"v":3},{"k":"m","i":250,"v":3},{"k":"m","i":254,"v":15},{"k":"m","i":258,"v":30},{"k":"m","i":262,"v":45},{"k":"m","i":266,"v":48},{"k":"m","i":363,"v":48},
{"k":"l","i":0,"v":100},{"k":"l","i":10,"v":100},{"k":"l","i":14,"v":60},{"k":"l","i":18,"v":25},{"k":"l","i":22,"v":15},{"k":"l","i":91,"v":15},{"k":"l","i":92,"v":8},{"k":"l","i":111,"v":8},{"k":"l","i":113,"v":12},{"k":"l","i":118,"v":15},{"k":"l","i":134,"v":15},{"k":"l","i":138,"v":50},{"k":"l","i":142,"v":85},{"k":"l","i":146,"v":100},{"k":"l","i":206,"v":100},{"k":"l","i":209,"v":60},{"k":"l","i":212,"v":25},{"k":"l","i":214,"v":15},{"k":"l","i":228,"v":15},{"k":"l","i":232,"v":8},{"k":"l","i":236,"v":3},{"k":"l","i":240,"v":1},{"k":"l","i":250,"v":1},{"k":"l","i":254,"v":8},{"k":"l","i":258,"v":12},{"k":"l","i":264,"v":15},{"k":"l","i":363,"v":15}
],
"info":[{"n":0,"name":"Bar Left","val":"[ 34:21 ]"},{"n":1,"name":"Sydney","val":"04:25 PM"},{"n":2,"name":"* Tokyo","val":"02:25 PM"},{"n":3,"name":"Berlin","val":"06:25 AM"},{"n":4,"name":"London","val":"05:25 AM"},{"n":5,"name":"New York","val":"12:25 AM"},{"n":6,"name":"","val":"ATR (20) : 36 pips"}]
},
"layer":[
{"layer":[
 {"data":{"values":[{}]},
  "mark":{"type":"rect","fill":{"gradient":"linear","x1":0,"y1":0,"x2":0,"y2":1,"stops":[{"offset":0,"color":"#f1f1f1"},{"offset":1,"color":"#d3d3d3"}]}},
  "encoding":{
   "x":{"datum":-1,"type":"quantitative","scale":{"domain":[-0.2,468.9],"nice":false,"zero":false},
     "axis":{"orient":"bottom","title":null,"grid":false,"zindex":2,"values":[0,16,32,48,64,80,96,112,128,144,160,176,192,208,224,240,256,272,288,304,320,336,352],"labelExpr":"['15 Nov 2017','15 Nov 20:00','16 Nov 12:00','17 Nov 04:00','17 Nov 20:00','20 Nov 12:00','21 Nov 04:00','21 Nov 20:00','22 Nov 12:00','23 Nov 04:00','23 Nov 20:00','24 Nov 12:00','27 Nov 04:00','27 Nov 20:00','28 Nov 12:00','29 Nov 04:00','29 Nov 20:00','30 Nov 12:00','1 Dec 04:00','1 Dec 20:00','4 Dec 12:00','5 Dec 04:00','5 Dec 20:00'][round(datum.value/16)]","labelAlign":"left","labelBaseline":"top","labelFontSize":3.9,"labelPadding":-2.5,"labelOffset":1.2,"labelColor":"#222","labelOverlap":false,"labelSeparation":0,"labelFlush":false,"labelBound":false,"tickSize":4,"tickColor":"#333","domainColor":"#333","domainWidth":1}},
   "x2":{"datum":481},
   "y":{"datum":1.2048,"type":"quantitative","scale":{"domain":[1.1637,1.20462],"nice":false,"zero":false},
     "axis":{"orient":"right","title":null,"grid":false,"zindex":2,"values":[1.20355,1.20205,1.2006,1.1991,1.19765,1.19615,1.1947,1.1932,1.19175,1.19025,1.1888,1.1873,1.18585,1.18435,1.1829,1.1814,1.17995,1.17845,1.177,1.1755,1.17405,1.17255,1.1711,1.1696,1.16815,1.16665,1.1652,1.1637],"format":".5f","labelFontSize":3.8,"labelPadding":0.5,"labelColor":"#222","labelOverlap":false,"labelSeparation":0,"labelFlush":false,"labelBound":false,"tickSize":3,"tickColor":"#333","domainColor":"#333","domainWidth":1}},
   "y2":{"datum":1.1624}}},
 {"data":{"values":[{}]},"mark":{"type":"rule","color":"#c2c2c2","strokeWidth":0.8},
  "encoding":{"y":{"datum":1.18404,"type":"quantitative","scale":{"domain":[1.1637,1.20462],"nice":false,"zero":false},
     "axis":{"orient":"right","title":null,"grid":false,"zindex":2,"values":[1.20355,1.20205,1.2006,1.1991,1.19765,1.19615,1.1947,1.1932,1.19175,1.19025,1.1888,1.1873,1.18585,1.18435,1.1829,1.1814,1.17995,1.17845,1.177,1.1755,1.17405,1.17255,1.1711,1.1696,1.16815,1.16665,1.1652,1.1637],"format":".5f","labelFontSize":3.8,"labelPadding":0.5,"labelColor":"#222","labelOverlap":false,"labelSeparation":0,"labelFlush":false,"labelBound":false,"tickSize":3,"tickColor":"#333","domainColor":"#333","domainWidth":1}}}},
 {"data":{"values":[{}]},"mark":{"type":"rule","color":"#8c8c8c","strokeWidth":1},
  "encoding":{"y":{"datum":1.20457,"type":"quantitative","scale":{"domain":[1.1637,1.20462],"nice":false,"zero":false},
     "axis":{"orient":"right","title":null,"grid":false,"zindex":2,"values":[1.20355,1.20205,1.2006,1.1991,1.19765,1.19615,1.1947,1.1932,1.19175,1.19025,1.1888,1.1873,1.18585,1.18435,1.1829,1.1814,1.17995,1.17845,1.177,1.1755,1.17405,1.17255,1.1711,1.1696,1.16815,1.16665,1.1652,1.1637],"format":".5f","labelFontSize":3.8,"labelPadding":0.5,"labelColor":"#222","labelOverlap":false,"labelSeparation":0,"labelFlush":false,"labelBound":false,"tickSize":3,"tickColor":"#333","domainColor":"#333","domainWidth":1}}}},
 {"data":{"values":[{}]},"mark":{"type":"rule","color":"#808080","strokeWidth":1.2},
  "encoding":{"x":{"datum":0.2,"type":"quantitative","scale":{"domain":[-0.2,468.9],"nice":false,"zero":false},
     "axis":{"orient":"bottom","title":null,"grid":false,"zindex":2,"values":[0,16,32,48,64,80,96,112,128,144,160,176,192,208,224,240,256,272,288,304,320,336,352],"labelExpr":"['15 Nov 2017','15 Nov 20:00','16 Nov 12:00','17 Nov 04:00','17 Nov 20:00','20 Nov 12:00','21 Nov 04:00','21 Nov 20:00','22 Nov 12:00','23 Nov 04:00','23 Nov 20:00','24 Nov 12:00','27 Nov 04:00','27 Nov 20:00','28 Nov 12:00','29 Nov 04:00','29 Nov 20:00','30 Nov 12:00','1 Dec 04:00','1 Dec 20:00','4 Dec 12:00','5 Dec 04:00','5 Dec 20:00'][round(datum.value/16)]","labelAlign":"left","labelBaseline":"top","labelFontSize":3.9,"labelPadding":-2.5,"labelOffset":1.2,"labelColor":"#222","labelOverlap":false,"labelSeparation":0,"labelFlush":false,"labelBound":false,"tickSize":4,"tickColor":"#333","domainColor":"#333","domainWidth":1}}}},
 {"data":{"name":"c"},"mark":{"type":"rule","color":"#9cb08f","strokeWidth":0.8},
  "encoding":{"x":{"field":"i","type":"quantitative","scale":{"domain":[-0.2,468.9],"nice":false,"zero":false},
     "axis":{"orient":"bottom","title":null,"grid":false,"zindex":2,"values":[0,16,32,48,64,80,96,112,128,144,160,176,192,208,224,240,256,272,288,304,320,336,352],"labelExpr":"['15 Nov 2017','15 Nov 20:00','16 Nov 12:00','17 Nov 04:00','17 Nov 20:00','20 Nov 12:00','21 Nov 04:00','21 Nov 20:00','22 Nov 12:00','23 Nov 04:00','23 Nov 20:00','24 Nov 12:00','27 Nov 04:00','27 Nov 20:00','28 Nov 12:00','29 Nov 04:00','29 Nov 20:00','30 Nov 12:00','1 Dec 04:00','1 Dec 20:00','4 Dec 12:00','5 Dec 04:00','5 Dec 20:00'][round(datum.value/16)]","labelAlign":"left","labelBaseline":"top","labelFontSize":3.9,"labelPadding":-2.5,"labelOffset":1.2,"labelColor":"#222","labelOverlap":false,"labelSeparation":0,"labelFlush":false,"labelBound":false,"tickSize":4,"tickColor":"#333","domainColor":"#333","domainWidth":1}},
   "y":{"field":"l","type":"quantitative","scale":{"domain":[1.1637,1.20462],"nice":false,"zero":false},
     "axis":{"orient":"right","title":null,"grid":false,"zindex":2,"values":[1.20355,1.20205,1.2006,1.1991,1.19765,1.19615,1.1947,1.1932,1.19175,1.19025,1.1888,1.1873,1.18585,1.18435,1.1829,1.1814,1.17995,1.17845,1.177,1.1755,1.17405,1.17255,1.1711,1.1696,1.16815,1.16665,1.1652,1.1637],"format":".5f","labelFontSize":3.8,"labelPadding":0.5,"labelColor":"#222","labelOverlap":false,"labelSeparation":0,"labelFlush":false,"labelBound":false,"tickSize":3,"tickColor":"#333","domainColor":"#333","domainWidth":1}},"y2":{"field":"h"}}},
 {"data":{"name":"c"},"mark":{"type":"rule","strokeWidth":1.6},
  "encoding":{"x":{"field":"i","type":"quantitative","scale":{"domain":[-0.2,468.9],"nice":false,"zero":false},
     "axis":{"orient":"bottom","title":null,"grid":false,"zindex":2,"values":[0,16,32,48,64,80,96,112,128,144,160,176,192,208,224,240,256,272,288,304,320,336,352],"labelExpr":"['15 Nov 2017','15 Nov 20:00','16 Nov 12:00','17 Nov 04:00','17 Nov 20:00','20 Nov 12:00','21 Nov 04:00','21 Nov 20:00','22 Nov 12:00','23 Nov 04:00','23 Nov 20:00','24 Nov 12:00','27 Nov 04:00','27 Nov 20:00','28 Nov 12:00','29 Nov 04:00','29 Nov 20:00','30 Nov 12:00','1 Dec 04:00','1 Dec 20:00','4 Dec 12:00','5 Dec 04:00','5 Dec 20:00'][round(datum.value/16)]","labelAlign":"left","labelBaseline":"top","labelFontSize":3.9,"labelPadding":-2.5,"labelOffset":1.2,"labelColor":"#222","labelOverlap":false,"labelSeparation":0,"labelFlush":false,"labelBound":false,"tickSize":4,"tickColor":"#333","domainColor":"#333","domainWidth":1}},
   "y":{"field":"o","type":"quantitative","scale":{"domain":[1.1637,1.20462],"nice":false,"zero":false},
     "axis":{"orient":"right","title":null,"grid":false,"zindex":2,"values":[1.20355,1.20205,1.2006,1.1991,1.19765,1.19615,1.1947,1.1932,1.19175,1.19025,1.1888,1.1873,1.18585,1.18435,1.1829,1.1814,1.17995,1.17845,1.177,1.1755,1.17405,1.17255,1.1711,1.1696,1.16815,1.16665,1.1652,1.1637],"format":".5f","labelFontSize":3.8,"labelPadding":0.5,"labelColor":"#222","labelOverlap":false,"labelSeparation":0,"labelFlush":false,"labelBound":false,"tickSize":3,"tickColor":"#333","domainColor":"#333","domainWidth":1}},"y2":{"field":"c"},
   "color":{"condition":{"test":"datum.c >= datum.o","value":"#3fa837"},"value":"#8a7a4e"}}},
 {"data":{"values":[{}]},"mark":{"type":"text","text":"1.1","align":"right","baseline":"alphabetic","fontSize":12,"fontWeight":"bold","color":"#8a8a8a"},
  "encoding":{"x":{"datum":467.7,"type":"quantitative","scale":{"domain":[-0.2,468.9],"nice":false,"zero":false},
     "axis":{"orient":"bottom","title":null,"grid":false,"zindex":2,"values":[0,16,32,48,64,80,96,112,128,144,160,176,192,208,224,240,256,272,288,304,320,336,352],"labelExpr":"['15 Nov 2017','15 Nov 20:00','16 Nov 12:00','17 Nov 04:00','17 Nov 20:00','20 Nov 12:00','21 Nov 04:00','21 Nov 20:00','22 Nov 12:00','23 Nov 04:00','23 Nov 20:00','24 Nov 12:00','27 Nov 04:00','27 Nov 20:00','28 Nov 12:00','29 Nov 04:00','29 Nov 20:00','30 Nov 12:00','1 Dec 04:00','1 Dec 20:00','4 Dec 12:00','5 Dec 04:00','5 Dec 20:00'][round(datum.value/16)]","labelAlign":"left","labelBaseline":"top","labelFontSize":3.9,"labelPadding":-2.5,"labelOffset":1.2,"labelColor":"#222","labelOverlap":false,"labelSeparation":0,"labelFlush":false,"labelBound":false,"tickSize":4,"tickColor":"#333","domainColor":"#333","domainWidth":1}},
   "y":{"datum":1.20337,"type":"quantitative","scale":{"domain":[1.1637,1.20462],"nice":false,"zero":false},
     "axis":{"orient":"right","title":null,"grid":false,"zindex":2,"values":[1.20355,1.20205,1.2006,1.1991,1.19765,1.19615,1.1947,1.1932,1.19175,1.19025,1.1888,1.1873,1.18585,1.18435,1.1829,1.1814,1.17995,1.17845,1.177,1.1755,1.17405,1.17255,1.1711,1.1696,1.16815,1.16665,1.1652,1.1637],"format":".5f","labelFontSize":3.8,"labelPadding":0.5,"labelColor":"#222","labelOverlap":false,"labelSeparation":0,"labelFlush":false,"labelBound":false,"tickSize":3,"tickColor":"#333","domainColor":"#333","domainWidth":1}}}},
 {"data":{"values":[{}]},"mark":{"type":"text","text":"EURUSD,H1","align":"left","baseline":"middle","fontSize":4,"color":"#111"},
  "encoding":{"x":{"datum":4,"type":"quantitative","scale":{"domain":[-0.2,468.9],"nice":false,"zero":false},
     "axis":{"orient":"bottom","title":null,"grid":false,"zindex":2,"values":[0,16,32,48,64,80,96,112,128,144,160,176,192,208,224,240,256,272,288,304,320,336,352],"labelExpr":"['15 Nov 2017','15 Nov 20:00','16 Nov 12:00','17 Nov 04:00','17 Nov 20:00','20 Nov 12:00','21 Nov 04:00','21 Nov 20:00','22 Nov 12:00','23 Nov 04:00','23 Nov 20:00','24 Nov 12:00','27 Nov 04:00','27 Nov 20:00','28 Nov 12:00','29 Nov 04:00','29 Nov 20:00','30 Nov 12:00','1 Dec 04:00','1 Dec 20:00','4 Dec 12:00','5 Dec 04:00','5 Dec 20:00'][round(datum.value/16)]","labelAlign":"left","labelBaseline":"top","labelFontSize":3.9,"labelPadding":-2.5,"labelOffset":1.2,"labelColor":"#222","labelOverlap":false,"labelSeparation":0,"labelFlush":false,"labelBound":false,"tickSize":4,"tickColor":"#333","domainColor":"#333","domainWidth":1}},
   "y":{"datum":1.2041,"type":"quantitative","scale":{"domain":[1.1637,1.20462],"nice":false,"zero":false},
     "axis":{"orient":"right","title":null,"grid":false,"zindex":2,"values":[1.20355,1.20205,1.2006,1.1991,1.19765,1.19615,1.1947,1.1932,1.19175,1.19025,1.1888,1.1873,1.18585,1.18435,1.1829,1.1814,1.17995,1.17845,1.177,1.1755,1.17405,1.17255,1.1711,1.1696,1.16815,1.16665,1.1652,1.1637],"format":".5f","labelFontSize":3.8,"labelPadding":0.5,"labelColor":"#222","labelOverlap":false,"labelSeparation":0,"labelFlush":false,"labelBound":false,"tickSize":3,"tickColor":"#333","domainColor":"#333","domainWidth":1}}}},
 {"data":{"values":[{}]},"mark":{"type":"square","filled":true,"size":7,"color":"#111","opacity":1},
  "encoding":{"x":{"datum":2.2,"type":"quantitative","scale":{"domain":[-0.2,468.9],"nice":false,"zero":false},
     "axis":{"orient":"bottom","title":null,"grid":false,"zindex":2,"values":[0,16,32,48,64,80,96,112,128,144,160,176,192,208,224,240,256,272,288,304,320,336,352],"labelExpr":"['15 Nov 2017','15 Nov 20:00','16 Nov 12:00','17 Nov 04:00','17 Nov 20:00','20 Nov 12:00','21 Nov 04:00','21 Nov 20:00','22 Nov 12:00','23 Nov 04:00','23 Nov 20:00','24 Nov 12:00','27 Nov 04:00','27 Nov 20:00','28 Nov 12:00','29 Nov 04:00','29 Nov 20:00','30 Nov 12:00','1 Dec 04:00','1 Dec 20:00','4 Dec 12:00','5 Dec 04:00','5 Dec 20:00'][round(datum.value/16)]","labelAlign":"left","labelBaseline":"top","labelFontSize":3.9,"labelPadding":-2.5,"labelOffset":1.2,"labelColor":"#222","labelOverlap":false,"labelSeparation":0,"labelFlush":false,"labelBound":false,"tickSize":4,"tickColor":"#333","domainColor":"#333","domainWidth":1}},
   "y":{"datum":1.2041,"type":"quantitative","scale":{"domain":[1.1637,1.20462],"nice":false,"zero":false},
     "axis":{"orient":"right","title":null,"grid":false,"zindex":2,"values":[1.20355,1.20205,1.2006,1.1991,1.19765,1.19615,1.1947,1.1932,1.19175,1.19025,1.1888,1.1873,1.18585,1.18435,1.1829,1.1814,1.17995,1.17845,1.177,1.1755,1.17405,1.17255,1.1711,1.1696,1.16815,1.16665,1.1652,1.1637],"format":".5f","labelFontSize":3.8,"labelPadding":0.5,"labelColor":"#222","labelOverlap":false,"labelSeparation":0,"labelFlush":false,"labelBound":false,"tickSize":3,"tickColor":"#333","domainColor":"#333","domainWidth":1}}}},
 {"data":{"values":[{}]},"mark":{"type":"rect","color":"#000000"},
  "encoding":{"x":{"datum":469.5,"type":"quantitative","scale":{"domain":[-0.2,468.9],"nice":false,"zero":false},
     "axis":{"orient":"bottom","title":null,"grid":false,"zindex":2,"values":[0,16,32,48,64,80,96,112,128,144,160,176,192,208,224,240,256,272,288,304,320,336,352],"labelExpr":"['15 Nov 2017','15 Nov 20:00','16 Nov 12:00','17 Nov 04:00','17 Nov 20:00','20 Nov 12:00','21 Nov 04:00','21 Nov 20:00','22 Nov 12:00','23 Nov 04:00','23 Nov 20:00','24 Nov 12:00','27 Nov 04:00','27 Nov 20:00','28 Nov 12:00','29 Nov 04:00','29 Nov 20:00','30 Nov 12:00','1 Dec 04:00','1 Dec 20:00','4 Dec 12:00','5 Dec 04:00','5 Dec 20:00'][round(datum.value/16)]","labelAlign":"left","labelBaseline":"top","labelFontSize":3.9,"labelPadding":-2.5,"labelOffset":1.2,"labelColor":"#222","labelOverlap":false,"labelSeparation":0,"labelFlush":false,"labelBound":false,"tickSize":4,"tickColor":"#333","domainColor":"#333","domainWidth":1}},"x2":{"datum":480.5},
   "y":{"datum":1.18435,"type":"quantitative","scale":{"domain":[1.1637,1.20462],"nice":false,"zero":false},
     "axis":{"orient":"right","title":null,"grid":false,"zindex":2,"values":[1.20355,1.20205,1.2006,1.1991,1.19765,1.19615,1.1947,1.1932,1.19175,1.19025,1.1888,1.1873,1.18585,1.18435,1.1829,1.1814,1.17995,1.17845,1.177,1.1755,1.17405,1.17255,1.1711,1.1696,1.16815,1.16665,1.1652,1.1637],"format":".5f","labelFontSize":3.8,"labelPadding":0.5,"labelColor":"#222","labelOverlap":false,"labelSeparation":0,"labelFlush":false,"labelBound":false,"tickSize":3,"tickColor":"#333","domainColor":"#333","domainWidth":1}},"y2":{"datum":1.18372}}},
 {"data":{"values":[{}]},"mark":{"type":"text","text":"1.18367","align":"left","baseline":"middle","fontSize":3.8,"color":"#ffffff"},
  "encoding":{"x":{"datum":470.6,"type":"quantitative","scale":{"domain":[-0.2,468.9],"nice":false,"zero":false},
     "axis":{"orient":"bottom","title":null,"grid":false,"zindex":2,"values":[0,16,32,48,64,80,96,112,128,144,160,176,192,208,224,240,256,272,288,304,320,336,352],"labelExpr":"['15 Nov 2017','15 Nov 20:00','16 Nov 12:00','17 Nov 04:00','17 Nov 20:00','20 Nov 12:00','21 Nov 04:00','21 Nov 20:00','22 Nov 12:00','23 Nov 04:00','23 Nov 20:00','24 Nov 12:00','27 Nov 04:00','27 Nov 20:00','28 Nov 12:00','29 Nov 04:00','29 Nov 20:00','30 Nov 12:00','1 Dec 04:00','1 Dec 20:00','4 Dec 12:00','5 Dec 04:00','5 Dec 20:00'][round(datum.value/16)]","labelAlign":"left","labelBaseline":"top","labelFontSize":3.9,"labelPadding":-2.5,"labelOffset":1.2,"labelColor":"#222","labelOverlap":false,"labelSeparation":0,"labelFlush":false,"labelBound":false,"tickSize":4,"tickColor":"#333","domainColor":"#333","domainWidth":1}},
   "y":{"datum":1.18404,"type":"quantitative","scale":{"domain":[1.1637,1.20462],"nice":false,"zero":false},
     "axis":{"orient":"right","title":null,"grid":false,"zindex":2,"values":[1.20355,1.20205,1.2006,1.1991,1.19765,1.19615,1.1947,1.1932,1.19175,1.19025,1.1888,1.1873,1.18585,1.18435,1.1829,1.1814,1.17995,1.17845,1.177,1.1755,1.17405,1.17255,1.1711,1.1696,1.16815,1.16665,1.1652,1.1637],"format":".5f","labelFontSize":3.8,"labelPadding":0.5,"labelColor":"#222","labelOverlap":false,"labelSeparation":0,"labelFlush":false,"labelBound":false,"tickSize":3,"tickColor":"#333","domainColor":"#333","domainWidth":1}}}}
]},
{"layer":[
 {"data":{"name":"lv"},"mark":{"type":"line","color":"#a2a8b2","strokeWidth":0.8},
  "encoding":{"x":{"field":"i","type":"quantitative","scale":{"domain":[-0.2,468.9],"nice":false,"zero":false},
     "axis":{"orient":"bottom","title":null,"grid":false,"zindex":2,"values":[0,16,32,48,64,80,96,112,128,144,160,176,192,208,224,240,256,272,288,304,320,336,352],"labelExpr":"['15 Nov 2017','15 Nov 20:00','16 Nov 12:00','17 Nov 04:00','17 Nov 20:00','20 Nov 12:00','21 Nov 04:00','21 Nov 20:00','22 Nov 12:00','23 Nov 04:00','23 Nov 20:00','24 Nov 12:00','27 Nov 04:00','27 Nov 20:00','28 Nov 12:00','29 Nov 04:00','29 Nov 20:00','30 Nov 12:00','1 Dec 04:00','1 Dec 20:00','4 Dec 12:00','5 Dec 04:00','5 Dec 20:00'][round(datum.value/16)]","labelAlign":"left","labelBaseline":"top","labelFontSize":3.9,"labelPadding":-2.5,"labelOffset":1.2,"labelColor":"#222","labelOverlap":false,"labelSeparation":0,"labelFlush":false,"labelBound":false,"tickSize":4,"tickColor":"#333","domainColor":"#333","domainWidth":1}},
   "y":{"field":"v","type":"quantitative","scale":{"domain":[-5.333,504],"nice":false,"zero":false},"axis":null},
   "detail":{"field":"k"},
   "strokeDash":{"field":"k","type":"nominal","scale":{"domain":["u","m","l"],"range":[[1,0],[1.5,1.5],[1,0]]},"legend":null}}},
 {"data":{"name":"s"},"mark":{"type":"line","color":"#8696b0","strokeWidth":1.4},
  "encoding":{"x":{"field":"i","type":"quantitative","scale":{"domain":[-0.2,468.9],"nice":false,"zero":false},
     "axis":{"orient":"bottom","title":null,"grid":false,"zindex":2,"values":[0,16,32,48,64,80,96,112,128,144,160,176,192,208,224,240,256,272,288,304,320,336,352],"labelExpr":"['15 Nov 2017','15 Nov 20:00','16 Nov 12:00','17 Nov 04:00','17 Nov 20:00','20 Nov 12:00','21 Nov 04:00','21 Nov 20:00','22 Nov 12:00','23 Nov 04:00','23 Nov 20:00','24 Nov 12:00','27 Nov 04:00','27 Nov 20:00','28 Nov 12:00','29 Nov 04:00','29 Nov 20:00','30 Nov 12:00','1 Dec 04:00','1 Dec 20:00','4 Dec 12:00','5 Dec 04:00','5 Dec 20:00'][round(datum.value/16)]","labelAlign":"left","labelBaseline":"top","labelFontSize":3.9,"labelPadding":-2.5,"labelOffset":1.2,"labelColor":"#222","labelOverlap":false,"labelSeparation":0,"labelFlush":false,"labelBound":false,"tickSize":4,"tickColor":"#333","domainColor":"#333","domainWidth":1}},
   "y":{"field":"v","type":"quantitative","scale":{"domain":[-5.333,504],"nice":false,"zero":false},"axis":null}}},
 {"data":{"name":"h"},"mark":{"type":"line","strokeWidth":3,"strokeCap":"round","strokeJoin":"round"},
  "encoding":{"x":{"field":"i","type":"quantitative","scale":{"domain":[-0.2,468.9],"nice":false,"zero":false},
     "axis":{"orient":"bottom","title":null,"grid":false,"zindex":2,"values":[0,16,32,48,64,80,96,112,128,144,160,176,192,208,224,240,256,272,288,304,320,336,352],"labelExpr":"['15 Nov 2017','15 Nov 20:00','16 Nov 12:00','17 Nov 04:00','17 Nov 20:00','20 Nov 12:00','21 Nov 04:00','21 Nov 20:00','22 Nov 12:00','23 Nov 04:00','23 Nov 20:00','24 Nov 12:00','27 Nov 04:00','27 Nov 20:00','28 Nov 12:00','29 Nov 04:00','29 Nov 20:00','30 Nov 12:00','1 Dec 04:00','1 Dec 20:00','4 Dec 12:00','5 Dec 04:00','5 Dec 20:00'][round(datum.value/16)]","labelAlign":"left","labelBaseline":"top","labelFontSize":3.9,"labelPadding":-2.5,"labelOffset":1.2,"labelColor":"#222","labelOverlap":false,"labelSeparation":0,"labelFlush":false,"labelBound":false,"tickSize":4,"tickColor":"#333","domainColor":"#333","domainWidth":1}},
   "y":{"field":"v","type":"quantitative","scale":{"domain":[-5.333,504],"nice":false,"zero":false},"axis":null},
   "detail":{"field":"g"},
   "color":{"field":"k","type":"nominal","scale":{"domain":["up","dn"],"range":["#4cb845","#e4521f"]},"legend":null}}},
 {"data":{"values":[{}]},"mark":{"type":"text","text":"EURUSD H1 on chart stochastic (14,0,-1 filter : 0) : 22.7803","align":"right","baseline":"middle","fontSize":5.3,"fontWeight":"bold","color":"#b4b4b4"},
  "encoding":{"x":{"datum":464.7,"type":"quantitative","scale":{"domain":[-0.2,468.9],"nice":false,"zero":false},
     "axis":{"orient":"bottom","title":null,"grid":false,"zindex":2,"values":[0,16,32,48,64,80,96,112,128,144,160,176,192,208,224,240,256,272,288,304,320,336,352],"labelExpr":"['15 Nov 2017','15 Nov 20:00','16 Nov 12:00','17 Nov 04:00','17 Nov 20:00','20 Nov 12:00','21 Nov 04:00','21 Nov 20:00','22 Nov 12:00','23 Nov 04:00','23 Nov 20:00','24 Nov 12:00','27 Nov 04:00','27 Nov 20:00','28 Nov 12:00','29 Nov 04:00','29 Nov 20:00','30 Nov 12:00','1 Dec 04:00','1 Dec 20:00','4 Dec 12:00','5 Dec 04:00','5 Dec 20:00'][round(datum.value/16)]","labelAlign":"left","labelBaseline":"top","labelFontSize":3.9,"labelPadding":-2.5,"labelOffset":1.2,"labelColor":"#222","labelOverlap":false,"labelSeparation":0,"labelFlush":false,"labelBound":false,"tickSize":4,"tickColor":"#333","domainColor":"#333","domainWidth":1}},
   "y":{"datum":6,"type":"quantitative","scale":{"domain":[-5.333,504],"nice":false,"zero":false},"axis":null}}}
]},
{"data":{"name":"info"},"layer":[
 {"mark":{"type":"text","align":"right","baseline":"middle","fontSize":3.5},
  "encoding":{"x":{"datum":450.9,"type":"quantitative","scale":{"domain":[-0.2,468.9],"nice":false,"zero":false},
     "axis":{"orient":"bottom","title":null,"grid":false,"zindex":2,"values":[0,16,32,48,64,80,96,112,128,144,160,176,192,208,224,240,256,272,288,304,320,336,352],"labelExpr":"['15 Nov 2017','15 Nov 20:00','16 Nov 12:00','17 Nov 04:00','17 Nov 20:00','20 Nov 12:00','21 Nov 04:00','21 Nov 20:00','22 Nov 12:00','23 Nov 04:00','23 Nov 20:00','24 Nov 12:00','27 Nov 04:00','27 Nov 20:00','28 Nov 12:00','29 Nov 04:00','29 Nov 20:00','30 Nov 12:00','1 Dec 04:00','1 Dec 20:00','4 Dec 12:00','5 Dec 04:00','5 Dec 20:00'][round(datum.value/16)]","labelAlign":"left","labelBaseline":"top","labelFontSize":3.9,"labelPadding":-2.5,"labelOffset":1.2,"labelColor":"#222","labelOverlap":false,"labelSeparation":0,"labelFlush":false,"labelBound":false,"tickSize":4,"tickColor":"#333","domainColor":"#333","domainWidth":1}},
   "y":{"field":"n","type":"quantitative","scale":{"domain":[-3.413,79.63],"reverse":true,"nice":false,"zero":false},"axis":null},
   "text":{"field":"name"},
   "color":{"condition":{"test":"datum.n === 2","value":"#ff2b2b"},"value":"#7a7a7a"}}},
 {"mark":{"type":"text","align":"right","baseline":"middle","fontSize":3.5},
  "encoding":{"x":{"datum":467.7,"type":"quantitative","scale":{"domain":[-0.2,468.9],"nice":false,"zero":false},
     "axis":{"orient":"bottom","title":null,"grid":false,"zindex":2,"values":[0,16,32,48,64,80,96,112,128,144,160,176,192,208,224,240,256,272,288,304,320,336,352],"labelExpr":"['15 Nov 2017','15 Nov 20:00','16 Nov 12:00','17 Nov 04:00','17 Nov 20:00','20 Nov 12:00','21 Nov 04:00','21 Nov 20:00','22 Nov 12:00','23 Nov 04:00','23 Nov 20:00','24 Nov 12:00','27 Nov 04:00','27 Nov 20:00','28 Nov 12:00','29 Nov 04:00','29 Nov 20:00','30 Nov 12:00','1 Dec 04:00','1 Dec 20:00','4 Dec 12:00','5 Dec 04:00','5 Dec 20:00'][round(datum.value/16)]","labelAlign":"left","labelBaseline":"top","labelFontSize":3.9,"labelPadding":-2.5,"labelOffset":1.2,"labelColor":"#222","labelOverlap":false,"labelSeparation":0,"labelFlush":false,"labelBound":false,"tickSize":4,"tickColor":"#333","domainColor":"#333","domainWidth":1}},
   "y":{"field":"n","type":"quantitative","scale":{"domain":[-3.413,79.63],"reverse":true,"nice":false,"zero":false},"axis":null},
   "text":{"field":"val"},
   "color":{"condition":{"test":"datum.n === 2","value":"#ff2b2b"},"value":"#7a7a7a"}}}
]}
],
"resolve":{"scale":{"y":"independent"},"axis":{"y":"independent"}}
}
